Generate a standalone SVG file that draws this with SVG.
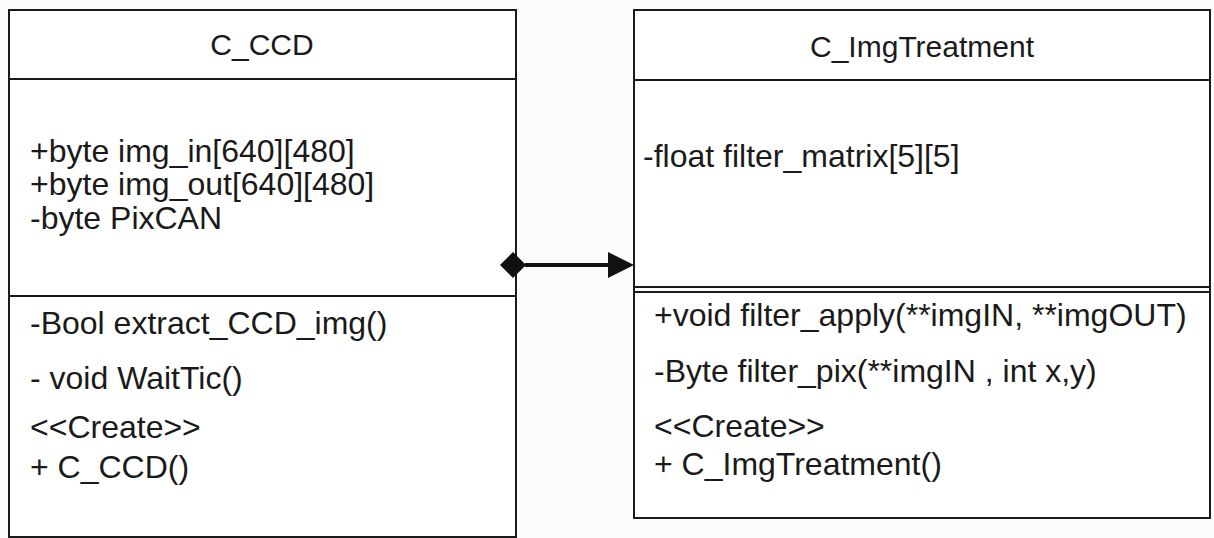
<svg xmlns="http://www.w3.org/2000/svg" width="1214" height="538" viewBox="0 0 1214 538">
<style>
.box{fill:#fff;stroke:#1a1a1a;stroke-width:2}
.ln{stroke:#1a1a1a;stroke-width:2;fill:none}
.t{font-family:"Liberation Sans",Arial,sans-serif;font-size:32px;fill:#1a1a1a}
.title{text-anchor:middle;font-size:30px}
</style>
<rect width="1214" height="538" fill="#fcfcfc"/>
<g id="C_CCD">
<rect class="box" x="9" y="10" width="507" height="527"/>
<line class="ln" x1="9" y1="79" x2="516" y2="79"/>
<line class="ln" x1="9" y1="296" x2="516" y2="296"/>
<text class="t title" x="262" y="55">C_CCD</text>
<text class="t" x="30" y="162">+byte img_in[640][480]</text>
<text class="t" x="30" y="195">+byte img_out[640][480]</text>
<text class="t" x="30" y="229">-byte PixCAN</text>
<text class="t" x="30" y="334">-Bool extract_CCD_img()</text>
<text class="t" x="30" y="389">- void WaitTic()</text>
<text class="t" x="30" y="438">&lt;&lt;Create&gt;&gt;</text>
<text class="t" x="30" y="478">+ C_CCD()</text>
</g>
<g id="C_ImgTreatment">
<rect class="box" x="634" y="10" width="576" height="508"/>
<line class="ln" x1="634" y1="80" x2="1210" y2="80"/>
<line class="ln" x1="634" y1="287" x2="1210" y2="287"/>
<line class="ln" x1="634" y1="292" x2="1210" y2="292"/>
<text class="t title" x="922" y="57">C_ImgTreatment</text>
<text class="t" x="643" y="167">-float filter_matrix[5][5]</text>
<text class="t" x="654" y="326">+void filter_apply(**imgIN, **imgOUT)</text>
<text class="t" x="654" y="382">-Byte filter_pix(**imgIN , int x,y)</text>
<text class="t" x="654" y="437">&lt;&lt;Create&gt;&gt;</text>
<text class="t" x="654" y="475">+ C_ImgTreatment()</text>
</g>
<g id="connectors">
<line x1="525" y1="265" x2="612" y2="265" stroke="#111" stroke-width="4"/>
<polygon points="500,265 513,252 526,265 513,278" fill="#111"/>
<polygon points="608,252 634,265 608,278" fill="#111"/>
</g>
</svg>
